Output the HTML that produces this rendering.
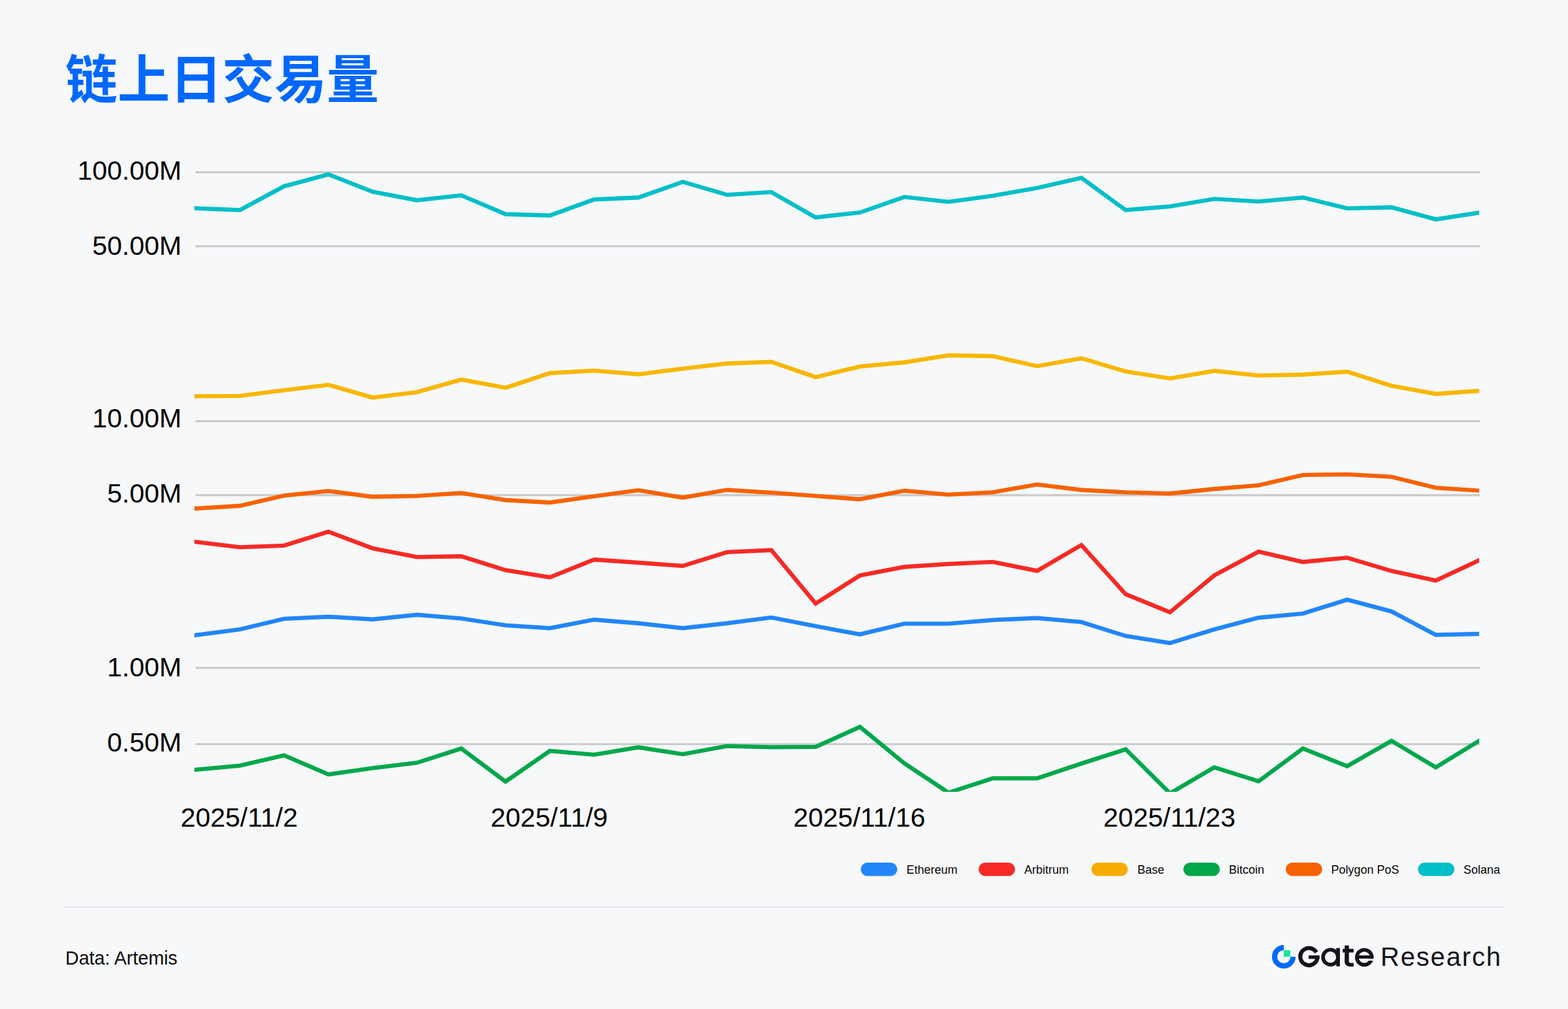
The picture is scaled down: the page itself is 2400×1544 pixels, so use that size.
<!DOCTYPE html>
<html lang="zh">
<head>
<meta charset="utf-8">
<title>链上日交易量</title>
<style>
html,body{margin:0;padding:0;background:#f7f8fa;}
body{width:2400px;height:1544px;overflow:hidden;font-family:"Liberation Sans",sans-serif;}
svg{display:block;}
text{font-family:"Liberation Sans","Noto Sans CJK SC",sans-serif;}
.ax{font-size:41px;fill:#000;}
.ln{fill:none;stroke-width:6.4;stroke-linejoin:miter;stroke-linecap:square;}
</style>
</head>
<body>
<svg width="2400" height="1544" viewBox="0 0 2400 1544">
<rect width="2400" height="1544" fill="#f7f8fa"/>
<text x="100" y="150" font-size="80" font-weight="bold" fill="#0068ff" font-family="&quot;Liberation Sans&quot;,&quot;Noto Sans CJK SC&quot;,sans-serif">链上日交易量</text>
<g stroke="#c9c9c9" stroke-width="3">
<line x1="299.2" x2="2265.4" y1="263.5" y2="263.5"/>
<line x1="299.2" x2="2265.4" y1="376.7" y2="376.7"/>
<line x1="299.2" x2="2265.4" y1="644.4" y2="644.4"/>
<line x1="299.2" x2="2265.4" y1="757.8" y2="757.8"/>
<line x1="299.2" x2="2265.4" y1="1021.9" y2="1021.9"/>
<line x1="299.2" x2="2265.4" y1="1138.7" y2="1138.7"/>
</g>
<g class="ax"><text x="278" y="274.9" text-anchor="end">100.00M</text><text x="278" y="390.0" text-anchor="end">50.00M</text><text x="278" y="653.9" text-anchor="end">10.00M</text><text x="278" y="769.3" text-anchor="end">5.00M</text><text x="278" y="1034.9" text-anchor="end">1.00M</text><text x="278" y="1150.0" text-anchor="end">0.50M</text><text x="366.1" y="1264.8" text-anchor="middle">2025/11/2</text><text x="840.7" y="1264.8" text-anchor="middle">2025/11/9</text><text x="1315.3" y="1264.8" text-anchor="middle">2025/11/16</text><text x="1789.9" y="1264.8" text-anchor="middle">2025/11/23</text></g>
<defs><clipPath id="plot"><rect x="297.5" y="240" width="1966.6" height="971.8"/></clipPath></defs>
<g clip-path="url(#plot)">
<polyline class="ln" stroke="#2186f8" points="299.2,972.0 367.0,963.2 434.8,946.9 502.6,943.7 570.4,947.7 638.2,940.7 706.0,946.4 773.8,956.9 841.6,961.2 909.4,948.2 977.2,953.7 1045.0,961.2 1112.8,953.7 1180.6,944.9 1248.4,958.2 1316.2,970.7 1384.0,954.4 1451.8,954.4 1519.6,948.7 1587.4,945.7 1655.2,951.9 1723.0,973.2 1790.8,984.0 1858.6,963.2 1926.4,945.2 1994.2,938.9 2062.0,917.6 2129.8,935.6 2197.6,971.5 2265.4,970.0"/>
<polyline class="ln" stroke="#f72a25" points="299.2,829.1 367.0,837.4 434.8,834.9 502.6,813.6 570.4,839.1 638.2,852.4 706.0,851.2 773.8,872.5 841.6,883.5 909.4,856.2 977.2,861.0 1045.0,866.0 1112.8,844.9 1180.6,841.7 1248.4,923.6 1316.2,880.5 1384.0,867.5 1451.8,863.0 1519.6,859.9 1587.4,873.5 1655.2,834.1 1723.0,909.3 1790.8,936.9 1858.6,880.5 1926.4,844.2 1994.2,859.9 2062.0,853.4 2129.8,873.7 2197.6,888.5 2265.4,856.7"/>
<polyline class="ln" stroke="#f8b700" points="299.2,606.4 367.0,605.9 434.8,597.1 502.6,588.9 570.4,608.4 638.2,600.2 706.0,580.9 773.8,593.4 841.6,571.0 909.4,567.1 977.2,572.8 1045.0,564.1 1112.8,556.3 1180.6,553.8 1248.4,577.1 1316.2,560.8 1384.0,554.5 1451.8,543.8 1519.6,545.0 1587.4,560.3 1655.2,548.3 1723.0,568.3 1790.8,579.1 1858.6,567.6 1926.4,574.6 1994.2,573.3 2062.0,568.8 2129.8,590.4 2197.6,602.7 2265.4,597.9"/>
<polyline class="ln" stroke="#00a84a" points="299.2,1177.9 367.0,1171.7 434.8,1155.9 502.6,1185.0 570.4,1175.4 638.2,1167.2 706.0,1145.4 773.8,1196.0 841.6,1149.1 909.4,1154.9 977.2,1143.6 1045.0,1154.1 1112.8,1141.6 1180.6,1143.4 1248.4,1142.9 1316.2,1112.3 1384.0,1167.9 1451.8,1213.0 1519.6,1191.0 1587.4,1191.0 1655.2,1168.4 1723.0,1146.6 1790.8,1214.0 1858.6,1174.2 1926.4,1195.5 1994.2,1145.4 2062.0,1172.4 2129.8,1133.6 2197.6,1174.2 2265.4,1132.8"/>
<polyline class="ln" stroke="#f76200" points="299.2,778.2 367.0,774.0 434.8,758.4 502.6,751.4 570.4,760.2 638.2,758.9 706.0,754.4 773.8,765.2 841.6,769.0 909.4,759.4 977.2,750.2 1045.0,761.5 1112.8,749.7 1180.6,753.9 1248.4,758.9 1316.2,764.0 1384.0,750.9 1451.8,756.9 1519.6,753.4 1587.4,741.4 1655.2,749.7 1723.0,753.4 1790.8,755.2 1858.6,748.2 1926.4,742.7 1994.2,726.9 2062.0,725.9 2129.8,729.6 2197.6,746.4 2265.4,750.9"/>
<polyline class="ln" stroke="#00bfc8" points="299.2,318.6 367.0,321.5 434.8,285.1 502.6,266.8 570.4,293.4 638.2,306.4 706.0,298.9 773.8,327.7 841.6,329.7 909.4,305.2 977.2,302.2 1045.0,278.3 1112.8,298.1 1180.6,293.9 1248.4,332.7 1316.2,325.2 1384.0,301.4 1451.8,308.9 1519.6,299.6 1587.4,287.6 1655.2,272.1 1723.0,321.5 1790.8,315.9 1858.6,304.4 1926.4,308.4 1994.2,302.2 2062.0,318.9 2129.8,317.2 2197.6,335.7 2265.4,325.2"/>
</g>
<rect x="1317.5" y="1320.1" width="55.9" height="20.5" rx="10.25" fill="#2186f8"/>
<rect x="1497.8" y="1320.1" width="55.9" height="20.5" rx="10.25" fill="#f72a25"/>
<rect x="1670.4" y="1320.1" width="55.9" height="20.5" rx="10.25" fill="#f7ad00"/>
<rect x="1811.2" y="1320.1" width="55.9" height="20.5" rx="10.25" fill="#00a84a"/>
<rect x="1967.9" y="1320.1" width="55.9" height="20.5" rx="10.25" fill="#f76200"/>
<rect x="2170.3" y="1320.1" width="55.9" height="20.5" rx="10.25" fill="#00bfc8"/>
<g font-size="18" fill="#050505"><text x="1387.5" y="1336.9">Ethereum</text><text x="1567.8" y="1336.9">Arbitrum</text><text x="1740.9" y="1336.9">Base</text><text x="1880.9" y="1336.9">Bitcoin</text><text x="2037.5" y="1336.9">Polygon PoS</text><text x="2240.0" y="1336.9">Solana</text></g>
<rect x="100" y="1386.8" width="2200" height="2" fill="#e6e7eb"/>
<text x="100" y="1475.8" font-size="28.6" fill="#0b0b0b">Data: Artemis</text>
<g aria-label="Gate Research" role="img">
<path fill="#0068ff" d="M1965.0 1445.9A18.1 18.1 0 1 0 1983.1 1464.0L1975.1 1464.0A10.1 10.1 0 1 1 1965.0 1453.9Z"/>
<rect x="1965.0" y="1454.0" width="10" height="10" fill="#17e5a1"/>
<path d="M2014.79 1457.33A13.15 13.15 0 1 0 2016.54 1464.36" fill="none" stroke="#13141d" stroke-width="6.20"/>
<rect x="2003.1" y="1462" width="16.55" height="5.3" fill="#13141d"/>
<circle cx="2036.45" cy="1464.70" r="11.4" fill="none" stroke="#13141d" stroke-width="5.6"/>
<rect x="2045.3" y="1450.7" width="5.6" height="28" fill="#13141d"/>
<path fill="#13141d" d="M2058.2 1446.7H2064.7V1452.1H2071.8V1457.6H2064.7V1471.4A2 2 0 0 0 2066.7 1473.4H2071.8V1478.9H2065.2A7 7 0 0 1 2058.2 1471.9V1457.6H2055.1V1452.1H2058.2Z"/>
<clipPath id="ecut"><path clip-rule="evenodd" d="M2060 1440H2120V1490H2060ZM2090.20 1466.9H2110V1470H2090.20Z"/></clipPath>
<g clip-path="url(#ecut)"><circle cx="2088.20" cy="1464.90" r="11.45" fill="none" stroke="#13141d" stroke-width="5.6"/><rect x="2077" y="1462" width="25.3" height="4.9" fill="#13141d"/></g>
<text x="2113" y="1478.4" font-size="40" fill="#13141d" textLength="184" lengthAdjust="spacing">Research</text>
</g>
</svg>
</body>
</html>
